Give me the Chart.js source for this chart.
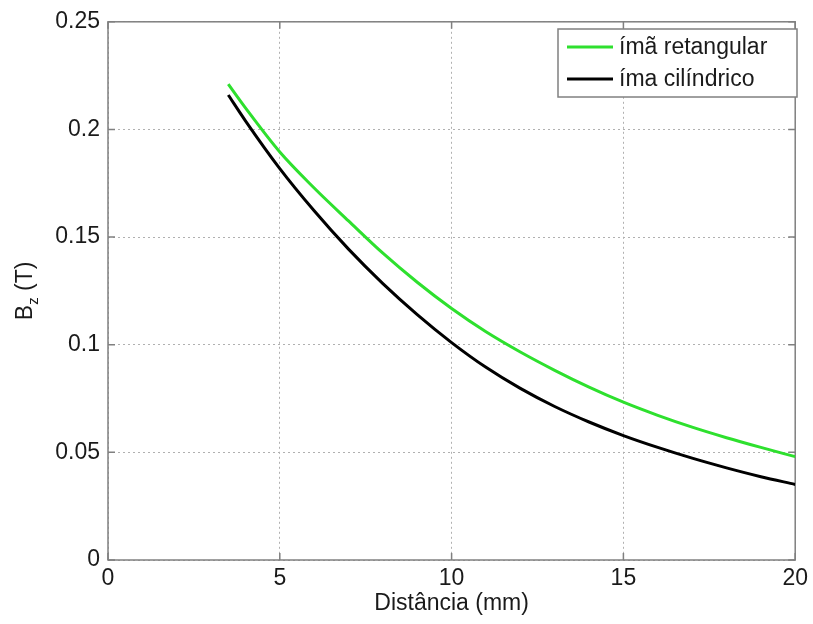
<!DOCTYPE html>
<html>
<head>
<meta charset="utf-8">
<script src="https://cdn.jsdelivr.net/npm/chart.js@4.4.1/dist/chart.umd.min.js"></script>
<style>
  html, body { margin: 0; padding: 0; background: #fff; }
  canvas { display: block; }
</style>
</head>
<body>
<canvas id="myChart" width="813" height="624"></canvas>
<script>
// distance (mm)
var distancia = [3.5, 4, 5, 6, 7, 8, 9, 10, 11, 12, 13, 14, 15, 16, 17, 18, 19, 20];
// Bz (T)
var imaRetangular = [0.221, 0.210, 0.1895, 0.1728, 0.1575, 0.1425, 0.1290, 0.1168, 0.1060, 0.0966, 0.0881, 0.0803, 0.0733, 0.0672, 0.0617, 0.0568, 0.0523, 0.048];
var imaCilindrico = [0.216, 0.204, 0.1818, 0.1622, 0.1444, 0.1284, 0.1140, 0.1010, 0.0895, 0.0797, 0.0713, 0.0641, 0.0578, 0.0523, 0.0473, 0.0428, 0.0387, 0.0351];
var xTickLabels = ['0', '5', '10', '15', '20'];
var yTickLabels = ['0', '0.05', '0.1', '0.15', '0.2', '0.25'];
var legendLabels = ['ímã retangular', 'íma cilíndrico'];

var fontFamily = "'Liberation Sans', Arial, Helvetica, sans-serif";
var green = '#2ee02e';

function pts(xs, ys) {
    var out = [];
    for (var i = 0; i < xs.length; i++) {
        out.push({x: xs[i], y: ys[i]});
    }
    return out;
}

// box, inward ticks, y title with subscript, legend
var matlabAxes = {
    id: 'matlabAxes',
    beforeDatasetsDraw: function(chart) {
        var ctx = chart.ctx;
        var a = chart.chartArea;
        var xs = chart.scales.x, ys = chart.scales.y;
        ctx.save();
        ctx.strokeStyle = '#808080';
        ctx.lineWidth = 1.5;
        ctx.strokeRect(a.left, a.top, a.right - a.left, a.bottom - a.top);
        ctx.beginPath();
        xs.ticks.forEach(function(t) {
            var px = xs.getPixelForValue(t.value);
            ctx.moveTo(px, a.bottom); ctx.lineTo(px, a.bottom - 7);
            ctx.moveTo(px, a.top); ctx.lineTo(px, a.top + 7);
        });
        ys.ticks.forEach(function(t) {
            var py = ys.getPixelForValue(t.value);
            ctx.moveTo(a.left, py); ctx.lineTo(a.left + 7, py);
            ctx.moveTo(a.right, py); ctx.lineTo(a.right - 7, py);
        });
        ctx.stroke();
        ctx.restore();
    },
    afterDraw: function(chart) {
        var ctx = chart.ctx;
        var a = chart.chartArea;
        // y axis title "Bz (T)"
        ctx.save();
        ctx.fillStyle = '#1a1a1a';
        ctx.translate(32, (a.top + a.bottom) / 2);
        ctx.rotate(-Math.PI / 2);
        ctx.textBaseline = 'alphabetic';
        ctx.font = '23px ' + fontFamily;
        var wB = ctx.measureText('B').width;
        var wT = ctx.measureText(' (T)').width;
        ctx.font = '15px ' + fontFamily;
        var wz = ctx.measureText('z').width;
        var x0 = -(wB + wz + wT) / 2;
        ctx.font = '23px ' + fontFamily;
        ctx.fillText('B', x0, 0);
        ctx.font = '15px ' + fontFamily;
        ctx.fillText('z', x0 + wB, 6);
        ctx.font = '23px ' + fontFamily;
        ctx.fillText(' (T)', x0 + wB + wz, 0);
        ctx.restore();

        // legend
        ctx.save();
        ctx.fillStyle = '#fff';
        ctx.fillRect(558, 29, 239, 68);
        ctx.strokeStyle = '#808080';
        ctx.lineWidth = 1.5;
        ctx.strokeRect(558, 29, 239, 68);
        var rows = [47, 79];
        chart.data.datasets.forEach(function(ds, i) {
            ctx.strokeStyle = ds.borderColor;
            ctx.lineWidth = 3;
            ctx.beginPath();
            ctx.moveTo(567, rows[i]);
            ctx.lineTo(613, rows[i]);
            ctx.stroke();
            ctx.fillStyle = '#1a1a1a';
            ctx.font = '23px ' + fontFamily;
            ctx.textBaseline = 'middle';
            ctx.fillText(legendLabels[i], 619, rows[i] + 1);
        });
        ctx.restore();
    }
};

var chartdata = {
    datasets: [
        {
            label: legendLabels[0],
            data: pts(distancia, imaRetangular),
            borderColor: green,
            borderWidth: 3,
            pointRadius: 0,
            fill: false,
            cubicInterpolationMode: 'monotone'
        },
        {
            label: legendLabels[1],
            data: pts(distancia, imaCilindrico),
            borderColor: '#000000',
            borderWidth: 3,
            pointRadius: 0,
            fill: false,
            cubicInterpolationMode: 'monotone'
        }
    ]
};

var options = {
    responsive: false,
    animation: false,
    devicePixelRatio: 1,
    layout: {
        padding: {top: 19, right: 17, left: 0, bottom: 0}
    },
    plugins: {
        legend: {display: false},
        tooltip: {enabled: false}
    },
    scales: {
        x: {
            type: 'linear',
            min: 0,
            max: 20,
            afterFit: function(scale) { scale.height = 64; },
            ticks: {
                stepSize: 5,
                padding: 5,
                color: '#1a1a1a',
                font: {family: fontFamily, size: 23},
                callback: function(value, index) { return xTickLabels[index]; }
            },
            grid: {
                color: '#b0b0b0',
                lineWidth: 1,
                drawTicks: false
            },
            border: {display: false, dash: [2, 3]},
            title: {
                display: true,
                text: 'Distância (mm)',
                color: '#1a1a1a',
                font: {family: fontFamily, size: 23},
                padding: {top: 0, bottom: 7}
            }
        },
        y: {
            min: 0,
            max: 0.25,
            afterFit: function(scale) { scale.width = 108; },
            ticks: {
                stepSize: 0.05,
                padding: 8,
                color: '#1a1a1a',
                font: {family: fontFamily, size: 23},
                callback: function(value, index) { return yTickLabels[index]; }
            },
            grid: {
                color: '#b0b0b0',
                lineWidth: 1,
                drawTicks: false
            },
            border: {display: false, dash: [2, 3]}
        }
    }
};

var ctx = document.getElementById('myChart');
var graph = new Chart(ctx, {
    type: 'line',
    data: chartdata,
    options: options,
    plugins: [matlabAxes]
});
</script>
</body>
</html>
